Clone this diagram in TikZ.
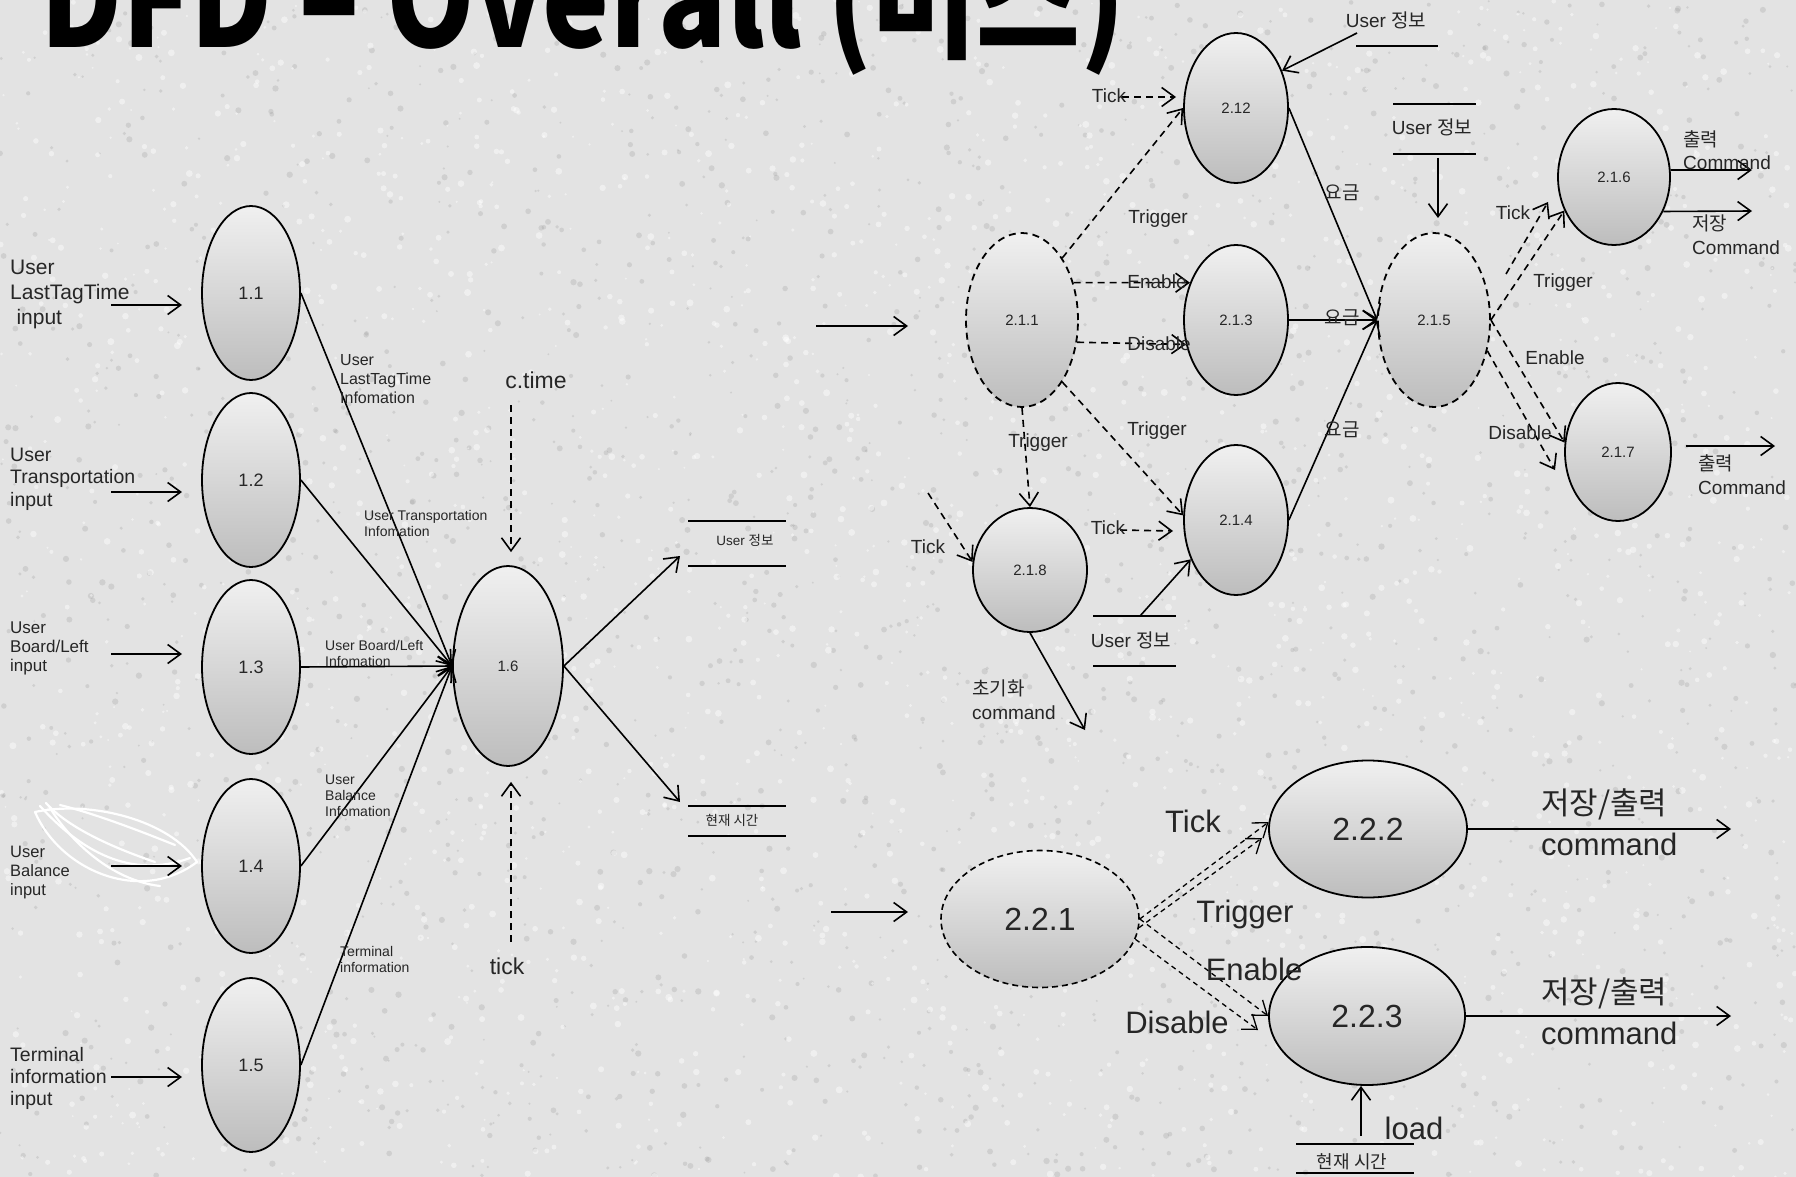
\documentclass[tikz,border=0pt]{standalone}
\usepackage{fontspec}
\setmainfont{Liberation Sans}
\newfontfamily\kr{Noto Sans CJK KR}
\usetikzlibrary{shapes.geometric,arrows.meta}

\definecolor{paper}{HTML}{E3E3E3}
\definecolor{bubtop}{HTML}{F0F0F0}
\definecolor{bubbot}{HTML}{BDBDBD}
\definecolor{ink}{HTML}{262626}
\newcommand{\setfs}[2]{\fontsize{#1}{#2}\selectfont}

\tikzset{
  proc/.style={ellipse, draw=black, line width=1.8pt, top color=bubtop,
    bottom color=bubbot, inner sep=0pt, text=ink},
  ctrlproc/.style={proc, dash pattern=on 7pt off 5pt},
  flow/.style={line width=1.6pt, -{Straight Barb[length=13pt,width=19pt]}},
  cflow/.style={flow, dash pattern=on 7pt off 5pt},
  lbl/.style={inner sep=0pt, text=ink, align=left},
  store/.style={line width=1.8pt},
  mid/.style={font=\setfs{19}{23}},
  big/.style={font=\setfs{31}{41}},
  tag/.style={font=\setfs{14}{16}},
}

\begin{document}
\begin{tikzpicture}[x=1pt,y=-1pt]
\clip (0,0) rectangle (1796,1177);
\fill[paper] (0,0) rectangle (1796,1177);

% granite-like speckle of the slide background
\pgfmathsetseed{7}
\foreach \i in {1,...,2200}{
  \pgfmathsetmacro{\rx}{rnd*1796}
  \pgfmathsetmacro{\ry}{rnd*1177}
  \pgfmathsetmacro{\rr}{1+rnd*2.2}
  \fill[black!45, opacity=0.22] (\rx,\ry) circle (\rr);
}
\foreach \i in {1,...,2200}{
  \pgfmathsetmacro{\rx}{rnd*1796}
  \pgfmathsetmacro{\ry}{rnd*1177}
  \pgfmathsetmacro{\rr}{1+rnd*2.5}
  \fill[white, opacity=0.45] (\rx,\ry) circle (\rr);
}

% ---------- title ----------
\node[anchor=base west, inner sep=0pt, text=black,
  font=\kr\bfseries\setfs{136}{136}] (title) at (40,48)
  {\scalebox{0.83}[1]{DFD – Overall (버스)}};

% ---------- level 1: input processes ----------
\foreach \n/\y in {1/293,2/480,3/667,4/866,5/1065}{
  \node[proc, minimum width=98pt, minimum height=174pt, font=\setfs{18}{20}]
    (p1\n) at (251,\y) {1.\n};
}
\node[proc, minimum width=110pt, minimum height=200pt, font=\setfs{15}{17}]
  (p16) at (508,666) {1.6};

% white doodle strokes beside the balance input
\begin{scope}[white, line width=2.2pt, line cap=round]
  \draw (35,812) .. controls (90,800) and (170,820) .. (197,862);
  \draw (35,812) .. controls (60,870) and (140,905) .. (197,862);
  \draw (40,806) .. controls (80,850) and (130,880) .. (190,858);
  \draw (46,803) .. controls (70,830) and (120,850) .. (155,862);
  \draw (50,808) .. controls (70,840) and (110,880) .. (160,886);
  \draw (60,805) .. controls (100,815) and (150,835) .. (175,845);
\end{scope}

% external inputs
\foreach \n/\y in {1/305,2/492,3/654,4/866,5/1077}{
  \coordinate (ina\n) at (111,\y);
  \coordinate (inb\n) at (182,\y);
  \draw[flow] (ina\n) -- (inb\n);
}
\node[lbl, anchor=west, font=\setfs{21}{25}] (lin1) at (10,294)
  {User\\LastTagTime\\\hspace*{0.3em}input};
\node[lbl, anchor=west, font=\setfs{19.5}{22.5}] (lin2) at (10,479)
  {User\\Transportation\\input};
\node[lbl, anchor=west, font=\setfs{17}{19}] (lin3) at (10,648)
  {User\\Board/Left\\input};
\node[lbl, anchor=west, font=\setfs{16.5}{19}] (lin4) at (10,873)
  {User\\Balance\\input};
\node[lbl, anchor=west, font=\setfs{19.5}{22}] (lin5) at (10,1078)
  {Terminal\\information\\input};

% flows into 1.6
\foreach \n in {1,...,5}{
  \draw[flow] (p1\n.east) -- (p16.west);
}
\node[lbl, anchor=west, font=\setfs{16}{19}] (lf1) at (340,379)
  {User\\LastTagTime\\Infomation};
\node[lbl, anchor=west, tag] (lf2) at (364,523)
  {User Transportation\\Infomation};
\node[lbl, anchor=west, tag] (lf3) at (325,653)
  {User Board/Left\\Infomation};
\node[lbl, anchor=west, tag] (lf4) at (325,796)
  {User\\Balance\\Infomation};
\node[lbl, anchor=west, tag] (lf5) at (340,959)
  {Terminal\\information};

% control signals of 1.6
\node[lbl, font=\setfs{23}{25}] (ctime) at (536,380) {c.time};
\coordinate (cta) at (511,405);
\draw[cflow, shorten >=13pt] (cta) -- (cta |- p16.north);
\node[lbl, font=\setfs{23}{25}] (ticklbl) at (507,966) {tick};
\coordinate (tka) at (511,942);
\draw[cflow, shorten >=15pt] (tka) -- (tka |- p16.south);

% outputs of 1.6 and stores
\coordinate (o16a) at (680,556);
\coordinate (o16b) at (680,802);
\draw[flow] (p16.east) -- (o16a);
\draw[flow] (p16.east) -- (o16b);
\draw[store] (688,521) -- (786,521) (688,566) -- (786,566);
\node[lbl, font=\setfs{13.5}{15}] (ds1) at (745,540) {User {\kr 정보}};
\draw[store] (688,806) -- (786,806) (688,836) -- (786,836);
\node[lbl, font=\kr\setfs{13.5}{15}] (ds2) at (732,820) {현재 시간};

% ---------- level 2.1 ----------
\node[ctrlproc, minimum width=112pt, minimum height=174pt, font=\setfs{15}{17}]
  (p211) at (1022,320) {2.1.1};
\node[proc, minimum width=104pt, minimum height=150pt, font=\setfs{15}{17}]
  (p212) at (1236,108) {2.12};
\node[proc, minimum width=104pt, minimum height=150pt, font=\setfs{15}{17}]
  (p213) at (1236,320) {2.1.3};
\node[proc, minimum width=104pt, minimum height=150pt, font=\setfs{15}{17}]
  (p214) at (1236,520) {2.1.4};
\node[ctrlproc, minimum width=112pt, minimum height=174pt, font=\setfs{15}{17}]
  (p215) at (1434,320) {2.1.5};
\node[proc, minimum width=112pt, minimum height=136pt, font=\setfs{15}{17}]
  (p216) at (1614,177) {2.1.6};
\node[proc, minimum width=106pt, minimum height=138pt, font=\setfs{15}{17}]
  (p217) at (1618,452) {2.1.7};
\node[proc, minimum width=114pt, minimum height=124pt, font=\setfs{15}{17}]
  (p218) at (1030,570) {2.1.8};

\coordinate (e21a) at (816,326);
\coordinate (e21b) at (908,326);
\draw[flow] (e21a) -- (e21b);

% controls from 2.1.1
\draw[cflow] (p211.57) -- (p212.180);
\node[lbl, mid] (tr212) at (1158,219) {Trigger};
\draw[cflow] (p211.36) -- (p213.141);
\draw[cflow] (p211.-22) -- (p213.-154);
\draw[cflow] (p211.-57) -- (p214.175);
\node[lbl, mid] (tr214) at (1157,431) {Trigger};
\draw[cflow] (p211.south) -- (p218.north);
\node[lbl, mid] (tr218) at (1038,443) {Trigger};

% clock ticks
\coordinate (tk212a) at (1122,97);
\coordinate (tk212b) at (1176,97);
\draw[cflow] (tk212a) -- (tk212b);
\node[lbl, mid] (tl212) at (1109,96) {Tick};
\coordinate (tk214a) at (1120,530);
\coordinate (tk214b) at (1173,531);
\draw[cflow] (tk214a) -- (tk214b);
\node[lbl, mid] (tl214) at (1108,528) {Tick};
\coordinate (tk218a) at (928,493);
\draw[cflow] (tk218a) -- (p218.172);
\node[lbl, mid] (tl218) at (928,547) {Tick};

\node[lbl, mid] (en213) at (1157,282) {Enable};
\node[lbl, mid] (di213) at (1159,344) {Disable};

% reset command
\coordinate (cmd218) at (1085,730);
\draw[flow] (p218.south) -- (cmd218);
\node[lbl, anchor=west, font=\setfs{19}{24}] (lcmd218) at (972,700)
  {{\kr 초기화}\\command};

% user store feeding 2.1.4
\draw[store] (1093,616) -- (1176,616) (1093,666) -- (1176,666);
\node[lbl, mid] (ds4) at (1131,640) {User {\kr 정보}};
\coordinate (ds4a) at (1140,616);
\draw[flow] (ds4a) -- (p214.-139);

% fares into 2.1.5
\draw[flow] (p212.east) -- (p215.west);
\draw[flow] (p213.east) -- (p215.west);
\draw[flow] (p214.east) -- (p215.west);
\node[lbl, font=\kr\setfs{19}{21}] (fa1) at (1342,193) {요금};
\node[lbl, font=\kr\setfs{19}{21}] (fa2) at (1342,318) {요금};
\node[lbl, font=\kr\setfs{19}{21}] (fa3) at (1342,430) {요금};

% user store feeding 2.12
\node[lbl, mid] (ds3) at (1386,20) {User {\kr 정보}};
\draw[store] (1356,46) -- (1438,46);
\coordinate (ds3a) at (1357,33);
\draw[flow] (ds3a) -- (p212.39);

% user store above 2.1.5
\draw[store] (1393,104) -- (1476,104) (1393,154) -- (1476,154);
\node[lbl, mid] (ds5) at (1432,127) {User {\kr 정보}};
\coordinate (ds5a) at (1438,158);
\coordinate (ds5b) at (1438,218);
\draw[flow] (ds5a) -- (ds5b);

% 2.1.5 to 2.1.6 / 2.1.7
\draw[cflow] (p215.east) -- (p216.-146);
\coordinate (c216s) at (1506,274);
\coordinate (c216e) at (1548,202);
\draw[cflow] (c216s) -- (c216e);
\node[lbl, mid] (tl216) at (1513,213) {Tick};
\node[lbl, mid] (tr216) at (1563,283) {Trigger};
\draw[cflow] (p215.east) -- (p217.170);
\coordinate (c217e) at (1555,470);
\draw[cflow] (p215.-30) -- (c217e);
\node[lbl, mid] (en217) at (1555,358) {Enable};
\node[lbl, mid] (di217) at (1520,433) {Disable};

% commands out of 2.1.6 / 2.1.7
\coordinate (o216a) at (1752,170);
\coordinate (o216b) at (1752,211);
\draw[flow] (p216.7) -- (o216a);
\draw[flow] (p216.-35) -- (o216b);
\node[lbl, anchor=west, font=\setfs{19}{23}] (lo216a) at (1683,150)
  {{\kr 출력}\\Command};
\node[lbl, anchor=west, font=\setfs{19}{24}] (lo216b) at (1692,235)
  {{\kr 저장}\\Command};
\coordinate (o217a) at (1686,446);
\coordinate (o217b) at (1775,446);
\draw[flow] (o217a) -- (o217b);
\node[lbl, anchor=west, font=\setfs{19}{24}] (lo217) at (1698,475)
  {{\kr 출력}\\Command};

% ---------- level 2.2 ----------
\node[ctrlproc, line width=1.6pt, dash pattern=on 6pt off 4pt,
  minimum width=198pt, minimum height=137pt, font=\setfs{32}{34}]
  (p221) at (1040,919) {2.2.1};
\node[proc, minimum width=198pt, minimum height=137pt, font=\setfs{32}{34}]
  (p222) at (1368,829) {2.2.2};
\node[proc, minimum width=196pt, minimum height=138pt, font=\setfs{32}{34}]
  (p223) at (1367,1016) {2.2.3};

\coordinate (e22a) at (831,912);
\coordinate (e22b) at (908,912);
\draw[flow] (e22a) -- (e22b);

\draw[cflow, line width=1.3pt, dash pattern=on 5pt off 4pt] (p221.east) -- (p222.176);
\coordinate (c222e) at (1262,838);
\draw[cflow, line width=1.3pt, dash pattern=on 5pt off 4pt] (p221.-5) -- (c222e);
\draw[cflow, line width=1.3pt, dash pattern=on 5pt off 4pt] (p221.east) -- (p223.180);
\coordinate (c223e) at (1258,1030);
\draw[cflow, line width=1.3pt, dash pattern=on 5pt off 4pt] (p221.-12) -- (c223e);
\node[lbl, big] (tl222) at (1193,821) {Tick};
\node[lbl, big] (tr222) at (1245,914) {Trigger};
\node[lbl, big] (en223) at (1254,969) {Enable};
\node[lbl, big] (di223) at (1177,1022) {Disable};

\coordinate (o222) at (1731,829);
\coordinate (o223) at (1731,1016);
\draw[flow] (p222.east) -- (o222);
\draw[flow] (p223.east) -- (o223);
\node[lbl, anchor=west, big] (lo222) at (1541,822) {{\kr 저장/출력}\\command};
\node[lbl, anchor=west, big] (lo223) at (1541,1011) {{\kr 저장/출력}\\command};

% current time store and load
\coordinate (ld) at (1361,1136);
\draw[flow] (ld) -- (ld |- p223.south);
\node[lbl, big] (lload) at (1414,1128) {load};
\draw[store] (1296,1144) -- (1414,1144) (1296,1173) -- (1414,1173);
\node[lbl, font=\kr\setfs{18}{20}] (ds6) at (1352,1162) {현재 시간};

\end{tikzpicture}
\end{document}
